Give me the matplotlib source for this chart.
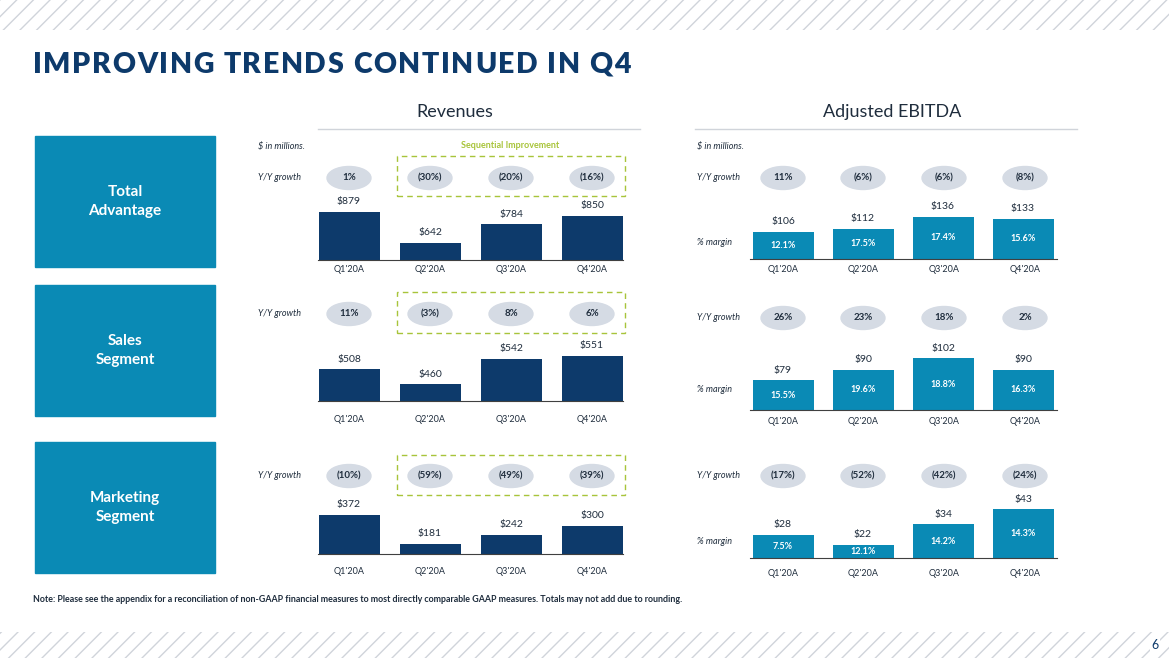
import matplotlib
matplotlib.use("Agg")
import matplotlib.pyplot as plt
from matplotlib.patches import Rectangle, Ellipse

plt.rcParams['font.family'] = ['Lato', 'DejaVu Sans']

W, H = 1169, 658
NAVY = "#0d3a6b"
TEAL = "#0a8ab5"
OVAL = "#d5dbe4"
TXT = "#1f2d3d"
GREEN = "#a8c43a"

quarters = ["Q1'20A", "Q2'20A", "Q3'20A", "Q4'20A"]

rev_total = [879, 642, 784, 850]
rev_sales = [508, 460, 542, 551]
rev_mkt = [372, 181, 242, 300]
rev_growth_total = ["1%", "(30%)", "(20%)", "(16%)"]
rev_growth_sales = ["11%", "(3%)", "8%", "6%"]
rev_growth_mkt = ["(10%)", "(59%)", "(49%)", "(39%)"]

ebitda_total = [106, 112, 136, 133]
ebitda_sales = [79, 90, 102, 90]
ebitda_mkt = [28, 22, 34, 43]
margin_total = ["12.1%", "17.5%", "17.4%", "15.6%"]
margin_sales = ["15.5%", "19.6%", "18.8%", "16.3%"]
margin_mkt = ["7.5%", "12.1%", "14.2%", "14.3%"]
eb_growth_total = ["11%", "(6%)", "(6%)", "(8%)"]
eb_growth_sales = ["26%", "23%", "18%", "2%"]
eb_growth_mkt = ["(17%)", "(52%)", "(42%)", "(24%)"]

fig = plt.figure(figsize=(W / 100, H / 100), dpi=100)


def fx(x):
    return x / W


def fy(y):
    return 1 - y / H


def text(x, y, s, **kw):
    return fig.text(fx(x), fy(y), s, **kw)


# hatched bands
plt.rcParams['hatch.linewidth'] = 1.0
plt.rcParams['hatch.color'] = "#d0d4da"
for y0, y1 in [(0, 30), (632, 658)]:
    fig.patches.append(Rectangle((0, fy(y1)), 1, (y1 - y0) / H, transform=fig.transFigure,
                                 facecolor="white", edgecolor="#d0d4da", hatch="//", lw=0))

# title with letter tracking
renderer = fig.canvas.get_renderer()
title = "IMPROVING TRENDS CONTINUED IN Q4"
x = 33
for ch in title:
    t = text(x, 65, ch, fontsize=20.5, fontweight="heavy", color=NAVY, va="center")
    if ch == " ":
        x += 8
    else:
        x += t.get_window_extent(renderer).width + 1.6

# left boxes
for (y0, y1), lab in zip([(136, 267), (285, 416), (442, 573)],
                         ["Total\nAdvantage", "Sales\nSegment", "Marketing\nSegment"]):
    fig.patches.append(Rectangle((fx(35), fy(y1)), (215 - 35) / W, (y1 - y0) / H,
                                 transform=fig.transFigure, color=TEAL))
    text(125, (y0 + y1) / 2, lab, color="white", fontsize=11, fontweight="bold",
         ha="center", va="center", linespacing=1.5)

# headers
text(455, 112, "Revenues", fontsize=13, ha="center", va="center", color=TXT)
text(892, 112, "Adjusted EBITDA", fontsize=13, ha="center", va="center", color=TXT)
for x0, x1 in [(318, 640), (695, 1077)]:
    fig.add_artist(plt.Line2D([fx(x0), fx(x1)], [fy(129), fy(129)], color="#d0d4da", lw=1))
text(258, 146, "$ in millions.", fontsize=6.5, style="italic", va="center", color=TXT)
text(697, 146, "$ in millions.", fontsize=6.5, style="italic", va="center", color=TXT)
text(510, 146, "Sequential Improvement", fontsize=6.5, color=GREEN, ha="center", va="center",
     fontweight="bold")


def oval(xc, yc, s):
    fig.patches.append(Ellipse((fx(xc), fy(yc)), 44 / W, 23 / H, transform=fig.transFigure,
                               color=OVAL))
    text(xc, yc, s, fontsize=7, fontweight="bold", ha="center", va="center", color=TXT)


def panel(x_left, x_right, centers, baseline, a, b, values, color, growth, gy, margins=None,
          cat_y=None, fmt="${:.0f}"):
    top = 90
    ax = fig.add_axes([fx(x_left), fy(baseline), (x_right - x_left) / W, top / H])
    sp = centers[1] - centers[0]
    lo = -(centers[0] - x_left) / sp
    ax.set_xlim(lo, lo + (x_right - x_left) / sp)
    ax.set_ylim(b, b + top / a)
    xs = range(len(values))
    ax.bar(xs, [v - b for v in values], width=61 / sp, color=color, bottom=b)
    for i, v in enumerate(values):
        ax.annotate(fmt.format(v), (i, v), xytext=(0, 4), textcoords="offset points",
                    ha="center", va="bottom", fontsize=7.5, color=TXT)
        if margins:
            ax.text(i, b + (v - b) / 2, margins[i], ha="center", va="center", fontsize=6.5,
                    color="white", fontweight="bold")
    for s in ["top", "left", "right"]:
        ax.spines[s].set_visible(False)
    ax.spines["bottom"].set_color("#404040")
    ax.set_xticks([])
    ax.set_yticks([])
    ax.patch.set_alpha(0)
    for c, q in zip(centers, quarters):
        text(c, cat_y, q, fontsize=6.5, ha="center", va="center", color=TXT)
    for c, g in zip(centers, growth):
        oval(c, gy, g)


rc = [349, 430, 511, 592]
ec = [783, 863, 944, 1025]

rev_specs = [(rev_total, 260, 0.131, 512, rev_growth_total, 178, 270, 156, 196),
             (rev_sales, 401, 0.3125, 406, rev_growth_sales, 314, 420, 292, 333),
             (rev_mkt, 554, 0.152, 115, rev_growth_mkt, 476, 572, 455, 495)]
for vals, base, a, b, g, gy, cy, ry0, ry1 in rev_specs:
    panel(318, 623, rc, base, a, b, vals, NAVY, g, gy, cat_y=cy)
    text(258, gy, "Y/Y growth", fontsize=6.5, style="italic", va="center", color=TXT)
    fig.patches.append(Rectangle((fx(397), fy(ry1)), (625 - 397) / W, (ry1 - ry0) / H,
                                 transform=fig.transFigure, fill=False, edgecolor=GREEN,
                                 ls=(0, (4, 3)), lw=1))

eb_specs = [(ebitda_total, 259, 0.5, 52, eb_growth_total, margin_total, 178, 270, 243),
            (ebitda_sales, 410, 0.96, 48, eb_growth_sales, margin_sales, 318, 422, 390),
            (ebitda_mkt, 558, 1.71, 14.4, eb_growth_mkt, margin_mkt, 476, 573, 541)]
for vals, base, a, b, g, m, gy, cy, my in eb_specs:
    panel(750, 1057, ec, base, a, b, vals, TEAL, g, gy, margins=m, cat_y=cy)
    text(697, gy, "Y/Y growth", fontsize=6.5, style="italic", va="center", color=TXT)
    text(697, my, "% margin", fontsize=6.5, style="italic", va="center", color=TXT)

text(33, 600, "Note: Please see the appendix for a reconciliation of non-GAAP financial measures "
     "to most directly comparable GAAP measures. Totals may not add due to rounding.",
     fontsize=6.4, fontweight="bold", va="center", color=TXT)
text(1155, 645, "6", fontsize=9, ha="center", va="center", color=NAVY,
     bbox=dict(facecolor="white", edgecolor="none", pad=1))

fig.savefig("out.png", dpi=100)
